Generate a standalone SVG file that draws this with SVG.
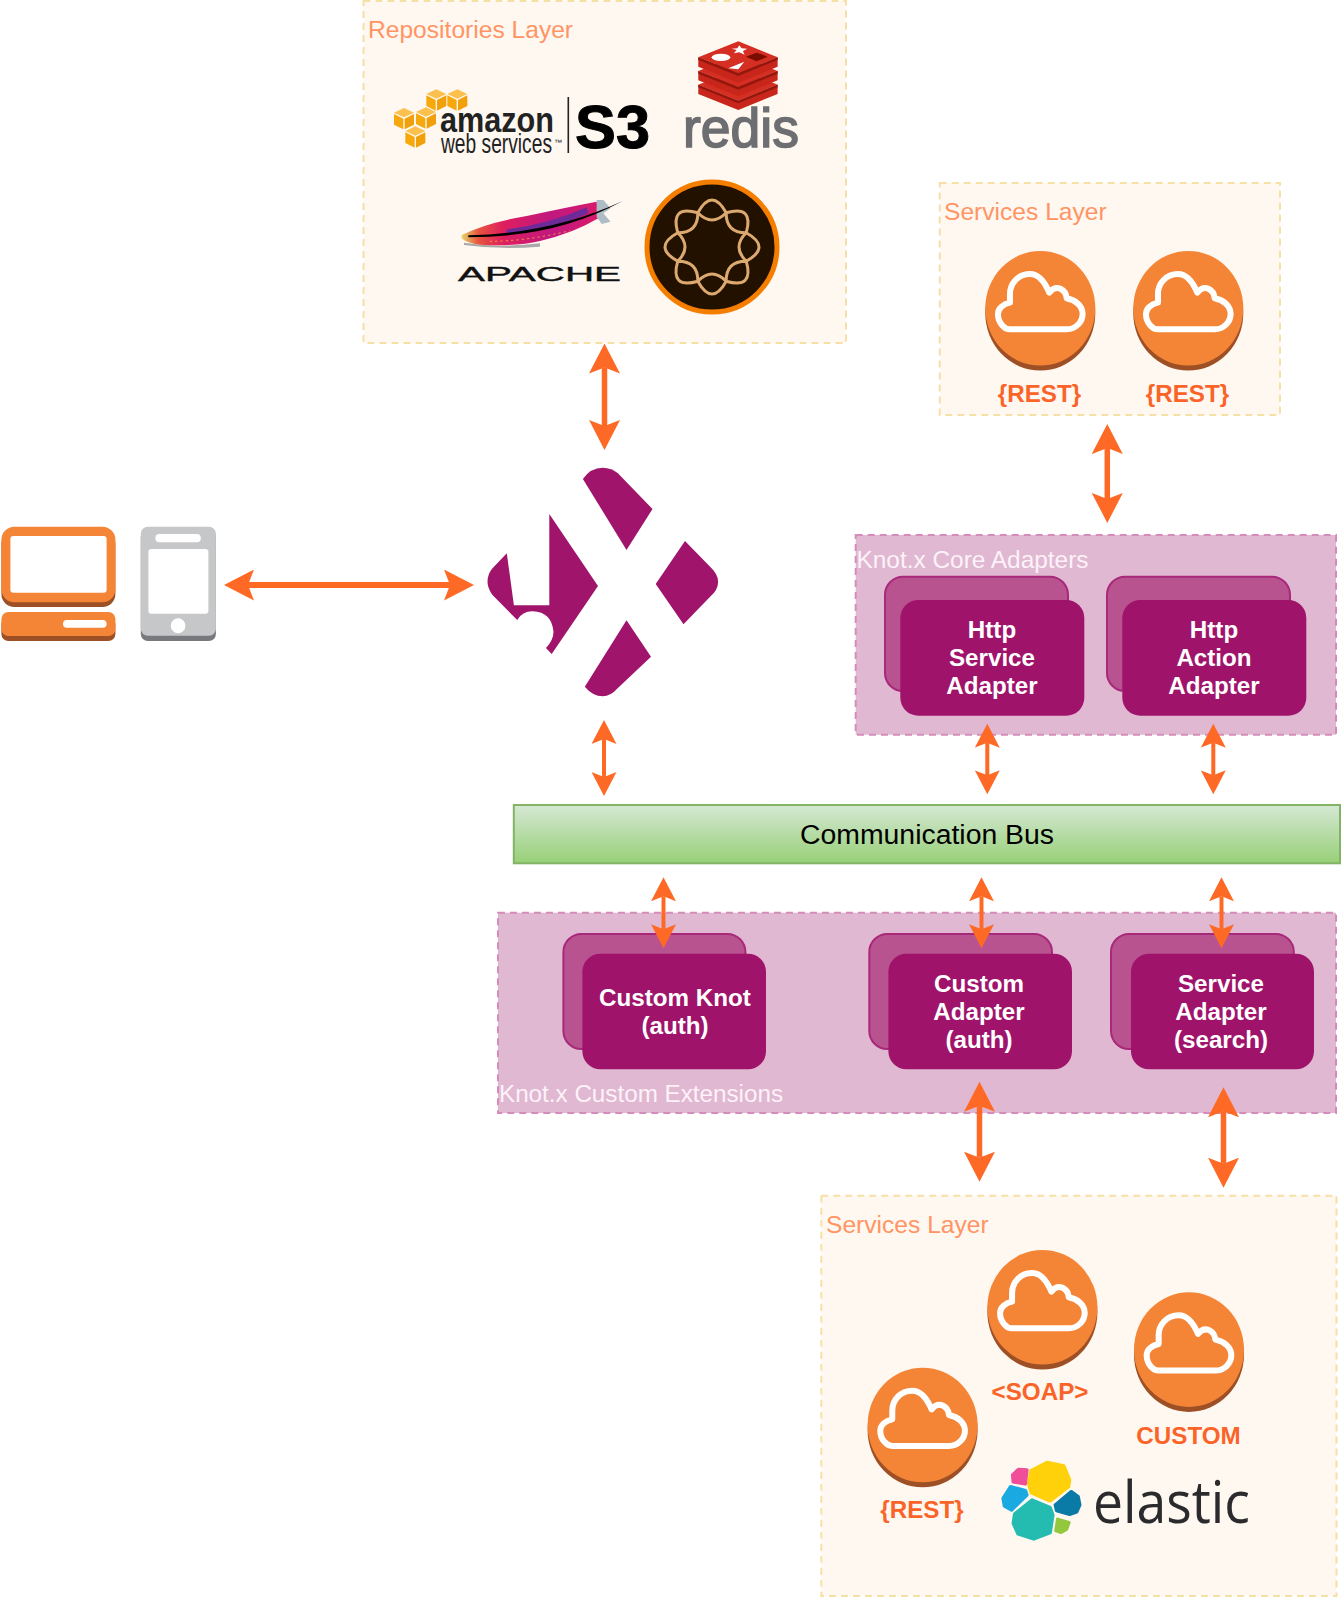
<svg xmlns="http://www.w3.org/2000/svg" xmlns:xlink="http://www.w3.org/1999/xlink" width="1342" height="1598" viewBox="0 0 1342 1598">
<style>
text{font-family:"Liberation Sans",Arial,sans-serif}
.layer{fill:#fff8f1;stroke:#f6e0a6;stroke-width:2;stroke-dasharray:7 5}
.ext{fill:#e0b8d2;stroke:#d58cbb;stroke-width:2;stroke-dasharray:7 5}
.lt{font-size:24.6px;fill:#ff9464}
.lw{font-size:24.4px;fill:#fdf2f8}
.back{fill:#b9538f;stroke:#a8287a;stroke-width:2}
.front{fill:#a0136b}
.ct{font-size:24.2px;font-weight:700;fill:#fff;text-anchor:middle}
.svc{font-size:24.2px;font-weight:700;fill:#fb6428;text-anchor:middle}
.big{stroke:#fe6a25;stroke-width:5.5;fill:none;marker-start:url(#headBig);marker-end:url(#headBig)}
.mid{stroke:#fe6a25;stroke-width:4;fill:none;marker-start:url(#headMid);marker-end:url(#headMid)}
</style>
<defs>
<marker id="headBig" markerUnits="userSpaceOnUse" markerWidth="30" markerHeight="31" viewBox="0 0 30 31" refX="6" refY="15.5" orient="auto-start-reverse"><path d="M0,0L30,15.5L0,31L6,15.5Z" fill="#fe6a25"/></marker>
<marker id="headMid" markerUnits="userSpaceOnUse" markerWidth="24" markerHeight="25" viewBox="0 0 24 25" refX="5" refY="12.5" orient="auto-start-reverse"><path d="M0,0L24,12.5L0,25L5,12.5Z" fill="#fe6a25"/></marker>
<linearGradient id="busFill" x1="0" y1="0" x2="0" y2="1"><stop offset="0" stop-color="#d5e8d4"/><stop offset="1" stop-color="#97d077"/></linearGradient>
<linearGradient id="featherFill" x1="0" y1="0" x2="1" y2="0"><stop offset="0" stop-color="#e4d56c"/><stop offset=".12" stop-color="#e8553f"/><stop offset=".3" stop-color="#df1f5e"/><stop offset=".65" stop-color="#c0187f"/><stop offset="1" stop-color="#d81b6a"/></linearGradient>
<g id="cloudIcon">
<ellipse cy="5" rx="55" ry="57.3" fill="#9d5025"/>
<ellipse rx="55" ry="57.3" fill="#f58536"/>
<g transform="scale(.3333) translate(-601,-415)"><path d="M510,478H680C708,478 728,455 728,432C728,408 707,390 680,385C678,360 650,340 628,368C612,330 590,312 570,312C535,312 510,340 510,372V398C490,402 474,415 474,432C474,460 495,478 510,478Z" fill="none" stroke="#fff" stroke-width="18" stroke-linejoin="round"/></g>
</g>
<g id="cube">
<path d="M0,-32L30,-18L0,-4L-30,-18Z" fill="#fbc04d"/>
<path d="M-30,-14L-2,0V32L-30,18Z" fill="#f7a80d"/>
<path d="M2,0L30,-14V18L2,32Z" fill="#f0a00a"/>
</g>
<g id="redisLayer">
<path d="M1075,172L1195,124L1313,172L1195,220Z" fill="#d52e22"/>
<path d="M1075,172V200L1195,248L1313,200V172L1195,220Z" fill="#c9261b"/>
<path d="M1075,172V180L1195,228L1313,180V172L1195,220Z" fill="#94170d"/>
</g>
<path id="aemLobe" d="M-14.2,-34.2Q0,-59.8 14.2,-34.2Q0,-19.8 -14.2,-34.2Z"/>
</defs>

<g id="repositories-layer">
<rect class="layer" x="363.5" y="1" width="482.5" height="342"/>
<text class="lt" x="368" y="38">Repositories Layer</text>
</g>
<g id="aws-s3">
<g transform="translate(340,0) scale(.3333)">
<use href="#cube" x="289" y="300"/><use href="#cube" x="352" y="300"/><use href="#cube" x="258" y="354"/><use href="#cube" x="192" y="356"/><use href="#cube" x="226" y="411"/>
</g>
<text x="440" y="131.5" font-size="35" font-weight="700" fill="#222" textLength="114" lengthAdjust="spacingAndGlyphs">amazon</text>
<text x="441" y="152.7" font-size="27" fill="#222" textLength="111" lengthAdjust="spacingAndGlyphs">web services</text>
<text x="554" y="145" font-size="8" fill="#222">™</text>
<rect x="567.5" y="97" width="1.6" height="56" fill="#222"/>
<text x="575" y="147.7" font-size="61" font-weight="700" fill="#000" stroke="#000" stroke-width="1" textLength="75" lengthAdjust="spacingAndGlyphs">S3</text>
</g>
<g id="redis">
<g transform="translate(340,0) scale(.3333)">
<use href="#redisLayer" y="82"/>
<use href="#redisLayer" y="41"/>
<use href="#redisLayer"/>
<path d="M1198,136L1205,145L1222,146L1209,153L1214,164L1198,157L1182,160L1190,150L1175,146L1192,145Z" fill="#fff"/>
<ellipse cx="1143" cy="172" rx="28" ry="11" fill="#fff"/>
<path d="M1165,205L1213,185L1195,208Z" fill="#fff"/>
<path d="M1218,170L1250,158L1283,170L1250,184Z" fill="#7a0c00"/>
</g>
<text x="683" y="146.5" font-size="55" fill="#6d6e71" stroke="#6d6e71" stroke-width="1.6" textLength="116" lengthAdjust="spacingAndGlyphs">redis</text>
</g>
<g id="apache">
<g transform="translate(340,0) scale(.3333)">
<path d="M372,728Q480,745 600,730L600,740Q480,750 372,735Z" fill="#a9a9a9"/>
<path d="M365,705Q440,668 560,648Q680,622 770,605Q780,630 775,655Q700,700 600,723Q530,740 420,734Q380,730 365,715Z" fill="url(#featherFill)"/>
<path d="M500,688Q620,675 740,622L745,640Q620,695 500,700Z" fill="#6f2a9a"/>
<path d="M450,724Q560,724 690,692" fill="none" stroke="#f2a33a" stroke-width="3" stroke-dasharray="6 10"/>
<path d="M770,600L790,600L812,625L790,640L812,665L785,672L770,650Z" fill="#aebcc6"/>
<path d="M385,706Q640,700 848,603Q650,712 385,712Z" fill="#000"/>
</g>
<text x="458" y="280.5" font-size="21" fill="#111" stroke="#111" stroke-width=".4" textLength="163" lengthAdjust="spacingAndGlyphs">APACHE</text>
</g>
<g id="aem">
<circle cx="712" cy="247" r="65" fill="#231100" stroke="#f57e00" stroke-width="5"/>
<g fill="none" stroke="#dcaa70" stroke-width="3" transform="translate(712,247)">
<use href="#aemLobe"/>
<use href="#aemLobe" transform="rotate(45)"/>
<use href="#aemLobe" transform="rotate(90)"/>
<use href="#aemLobe" transform="rotate(135)"/>
<use href="#aemLobe" transform="rotate(180)"/>
<use href="#aemLobe" transform="rotate(225)"/>
<use href="#aemLobe" transform="rotate(270)"/>
<use href="#aemLobe" transform="rotate(315)"/>
</g>
</g>

<g id="services-layer-top">
<rect class="layer" x="939.7" y="183" width="340.3" height="232"/>
<text class="lt" x="944" y="220.3">Services Layer</text>
</g>
<g id="service-rest-1"><use href="#cloudIcon" x="1040.3" y="308.3"/><text class="svc" x="1039.5" y="401.7">{REST}</text></g>
<g id="service-rest-2"><use href="#cloudIcon" x="1188.3" y="308.3"/><text class="svc" x="1187.5" y="401.7">{REST}</text></g>

<g id="laptop">
<rect x="1.4" y="531" width="114" height="76" rx="13" fill="#9d5025"/>
<rect x="1.4" y="526.7" width="114" height="75.5" rx="13" fill="#f58536"/>
<rect x="10.4" y="536" width="96.2" height="56.7" rx="3" fill="#fff"/>
<rect x="1.4" y="617" width="114" height="24" rx="7" fill="#9d5025"/>
<rect x="1.4" y="612" width="114" height="24" rx="7" fill="#f58536"/>
<rect x="63" y="620" width="43.6" height="7.7" rx="3.8" fill="#fff"/>
</g>
<g id="phone" transform="translate(-.6,0)">
<rect x="141.4" y="530" width="75.1" height="111" rx="7" fill="#77797c"/>
<rect x="141.4" y="526.7" width="75.1" height="109" rx="7" fill="#c6c7c8"/>
<rect x="156" y="534" width="45.4" height="8.3" rx="4" fill="#fff"/>
<rect x="149" y="549" width="60" height="64.7" rx="3" fill="#fff"/>
<ellipse cx="178.7" cy="625.7" rx="7.3" ry="7.5" fill="#fff"/>
</g>
<g id="knotx-logo" fill="#a0146b" transform="translate(-1.5,0)">
<path d="M584.4,479Q592,467.7 604.3,467.7Q613,468 619.4,473.3L654,509L628,550Z"/>
<path d="M686.5,541L711.6,566.7Q719.6,574 719.6,581.7Q719.6,590 711.6,596.7L685,624.3L657.2,584Z"/>
<path d="M628,620.3L652.5,656.7L619.4,688Q612,696.3 604.3,696.3Q594,696 586.3,686.7Z"/>
<path d="M550.8,514L599.5,586L553.2,654L547.5,648Q555,640 555,631.7Q553,612 534.3,611.3Q524,611 518.7,620L494,595Q489,588 489,581.7Q489,574 494,568.3L508.3,553.3L515.4,605.3H550.8Z"/>
</g>

<g id="knotx-core-adapters">
<rect class="ext" x="855.7" y="535" width="480.3" height="199.7"/>
<text class="lw" x="856.5" y="567.7" textLength="232" lengthAdjust="spacingAndGlyphs">Knot.x Core Adapters</text>
</g>
<g id="http-service-adapter">
<rect class="back" x="885" y="576.7" width="183" height="114.3" rx="18"/>
<rect class="front" x="900.3" y="600" width="184" height="115.7" rx="18"/>
<text class="ct" x="992" y="638.3">Http</text><text class="ct" x="992" y="666.3">Service</text><text class="ct" x="992" y="694.3">Adapter</text>
</g>
<g id="http-action-adapter">
<rect class="back" x="1107" y="576.7" width="183" height="114.3" rx="18"/>
<rect class="front" x="1122.3" y="600" width="184" height="115.7" rx="18"/>
<text class="ct" x="1214" y="638.3">Http</text><text class="ct" x="1214" y="666.3">Action</text><text class="ct" x="1214" y="694.3">Adapter</text>
</g>

<g id="communication-bus">
<rect x="513.8" y="805" width="826.2" height="58.3" fill="url(#busFill)" stroke="#82b366" stroke-width="2"/>
<text x="927" y="844.3" font-size="28.4" fill="#000" text-anchor="middle">Communication Bus</text>
</g>

<g id="knotx-custom-extensions">
<rect class="ext" x="498" y="912.7" width="838" height="200.3"/>
<text class="lw" x="499" y="1101.7" textLength="284" lengthAdjust="spacingAndGlyphs">Knot.x Custom Extensions</text>
</g>
<g id="custom-knot">
<rect class="back" x="563.4" y="934" width="182" height="115" rx="18"/>
<rect class="front" x="582.4" y="953.7" width="183.6" height="115.6" rx="18"/>
<text class="ct" x="675" y="1006">Custom Knot</text><text class="ct" x="675" y="1034.3">(auth)</text>
</g>
<g id="custom-adapter">
<rect class="back" x="869.3" y="934" width="182.7" height="115" rx="18"/>
<rect class="front" x="888.4" y="953.7" width="183.6" height="115.6" rx="18"/>
<text class="ct" x="979" y="992">Custom</text><text class="ct" x="979" y="1020">Adapter</text><text class="ct" x="979" y="1048">(auth)</text>
</g>
<g id="service-adapter">
<rect class="back" x="1111" y="934" width="182.8" height="115" rx="18"/>
<rect class="front" x="1131" y="953.7" width="183" height="115.6" rx="18"/>
<text class="ct" x="1221" y="992">Service</text><text class="ct" x="1221" y="1020">Adapter</text><text class="ct" x="1221" y="1048">(search)</text>
</g>

<g id="services-layer-bottom">
<rect class="layer" x="821.3" y="1195.7" width="515.2" height="400.3"/>
<text class="lt" x="826" y="1232.5">Services Layer</text>
</g>
<g id="service-soap"><use href="#cloudIcon" x="1042.4" y="1307.3"/><text class="svc" x="1040" y="1400">&lt;SOAP&gt;</text></g>
<g id="service-custom"><use href="#cloudIcon" x="1189" y="1349.6"/><text class="svc" x="1188.5" y="1444">CUSTOM</text></g>
<g id="service-rest-3"><use href="#cloudIcon" x="922.6" y="1425"/><text class="svc" x="922" y="1518">{REST}</text></g>
<g id="elastic">
<g transform="translate(808.5,1190) scale(.3413,.3333)" stroke-width="10" stroke-linejoin="round">
<path d="M645,880L652,842L700,817L748,828L765,870L762,890L708,933L652,908Z" fill="#fed10a" stroke="#fed10a"/>
<path d="M640,840L615,838L598,855L600,876L635,882Z" fill="#f04e98" stroke="#f04e98"/>
<path d="M570,925L592,890L636,902L640,915L595,960L574,948Z" fill="#1ba9e1" stroke="#1ba9e1"/>
<path d="M655,930L708,953L716,975L708,1028L660,1047L614,1032L600,1000L604,972Z" fill="#24bbb1" stroke="#24bbb1"/>
<path d="M723,945L770,905L790,920L795,945L786,966L765,973L727,962Z" fill="#0a7aa6" stroke="#0a7aa6"/>
<path d="M730,988L763,998L756,1018L740,1027L725,1022Z" fill="#93c83e" stroke="#93c83e"/>
</g>
<text x="1093" y="1522.5" font-size="58" fill="#2b2b2e" style="font-family:'Open Sans','Liberation Sans',sans-serif" textLength="157" lengthAdjust="spacingAndGlyphs">elastic</text>
</g>

<g id="connectors">
<line class="big" x1="248" y1="585" x2="450" y2="585" style="stroke-width:6"/>
<line class="big" x1="604.5" y1="367.5" x2="604.5" y2="426"/>
<line class="big" x1="1107.3" y1="448" x2="1107.3" y2="499"/>
<line class="mid" x1="604" y1="739" x2="604" y2="777"/>
<line class="mid" x1="987.3" y1="742.7" x2="987.3" y2="775.3"/>
<line class="mid" x1="1213.3" y1="742.7" x2="1213.3" y2="775.3"/>
<line class="mid" x1="663.5" y1="896.3" x2="663.5" y2="929.3"/>
<line class="mid" x1="981.5" y1="896.3" x2="981.5" y2="929.3"/>
<line class="mid" x1="1221.5" y1="896.3" x2="1221.5" y2="929.3"/>
<line class="big" x1="979.5" y1="1105.7" x2="979.5" y2="1157.7"/>
<line class="big" x1="1223.5" y1="1111.3" x2="1223.5" y2="1163.7"/>
</g>
</svg>
